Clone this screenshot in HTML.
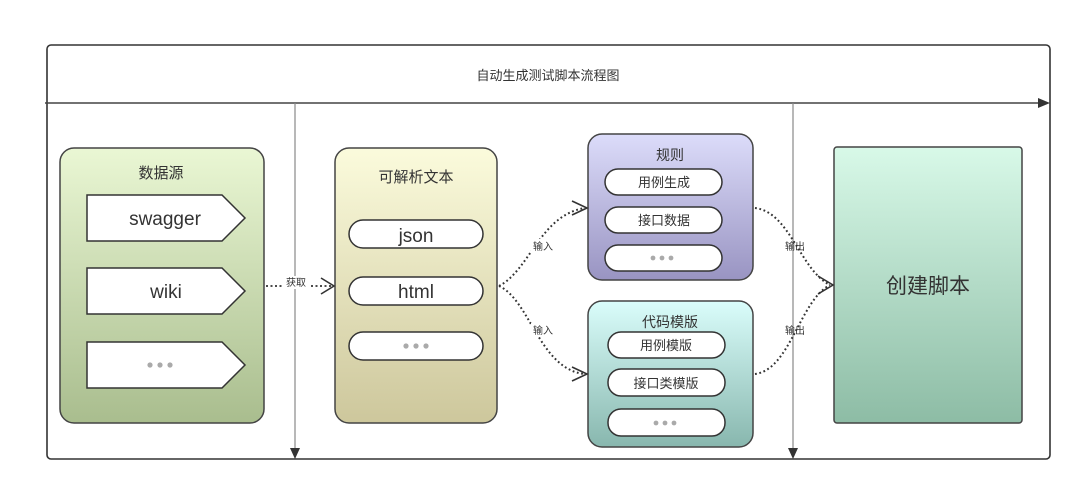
<!DOCTYPE html>
<html><head><meta charset="utf-8"><style>
html,body{margin:0;padding:0;background:#fff;width:1080px;height:489px;overflow:hidden}
text{font-family:"Liberation Sans","Noto Sans CJK SC",sans-serif;fill:#333}
</style></head><body>
<svg width="1080" height="489" viewBox="0 0 1080 489" xmlns="http://www.w3.org/2000/svg">
<defs>
<linearGradient id="g1" x1="0" y1="0" x2="0" y2="1"><stop offset="0" stop-color="#eaf7d4"/><stop offset="1" stop-color="#a9bd8e"/></linearGradient>
<linearGradient id="g2" x1="0" y1="0" x2="0" y2="1"><stop offset="0" stop-color="#fbfbdc"/><stop offset="1" stop-color="#cdc79c"/></linearGradient>
<linearGradient id="g3" x1="0" y1="0" x2="0" y2="1"><stop offset="0" stop-color="#dcdcfa"/><stop offset="1" stop-color="#9994c2"/></linearGradient>
<linearGradient id="g4" x1="0" y1="0" x2="0" y2="1"><stop offset="0" stop-color="#dafdfb"/><stop offset="1" stop-color="#88b7ae"/></linearGradient>
<linearGradient id="g5" x1="0" y1="0" x2="0" y2="1"><stop offset="0" stop-color="#d8f9e8"/><stop offset="1" stop-color="#8dbca5"/></linearGradient>
</defs>
<rect x="47" y="45" width="1003" height="414" rx="4" fill="none" stroke="#333" stroke-width="1.6"/>
<line x1="45" y1="103" x2="1042" y2="103" stroke="#444" stroke-width="1.6"/>
<polygon points="1050,103 1038,98 1038,108" fill="#333"/>
<text x="548" y="80" font-size="13" text-anchor="middle">自动生成测试脚本流程图</text>
<line x1="295" y1="103" x2="295" y2="450" stroke="#888" stroke-width="1.2"/>
<polygon points="295,459 290,448 300,448" fill="#333"/>
<line x1="793" y1="103" x2="793" y2="450" stroke="#888" stroke-width="1.2"/>
<polygon points="793,459 788,448 798,448" fill="#333"/>

<rect x="60" y="148" width="204" height="275" rx="14" fill="url(#g1)" stroke="#444" stroke-width="1.5"/>
<text x="161" y="178" font-size="15" text-anchor="middle">数据源</text>
<g fill="#fff" stroke="#333" stroke-width="1.5">
<polygon points="87,195 222,195 245,218 222,241 87,241"/>
<polygon points="87,268 222,268 245,291 222,314 87,314"/>
<polygon points="87,342 222,342 245,365 222,388 87,388"/>
</g>
<text x="165" y="225" font-size="19" text-anchor="middle">swagger</text>
<text x="166" y="298" font-size="19" text-anchor="middle">wiki</text>
<g fill="#aaa"><circle cx="150" cy="365" r="2.6"/><circle cx="160" cy="365" r="2.6"/><circle cx="170" cy="365" r="2.6"/></g>

<rect x="335" y="148" width="162" height="275" rx="14" fill="url(#g2)" stroke="#444" stroke-width="1.5"/>
<text x="416" y="182" font-size="15" text-anchor="middle">可解析文本</text>
<g fill="#fff" stroke="#333" stroke-width="1.5">
<rect x="349" y="220" width="134" height="28" rx="14"/>
<rect x="349" y="277" width="134" height="28" rx="14"/>
<rect x="349" y="332" width="134" height="28" rx="14"/>
</g>
<text x="416" y="242" font-size="19" text-anchor="middle">json</text>
<text x="416" y="298" font-size="19" text-anchor="middle">html</text>
<g fill="#aaa"><circle cx="406" cy="346" r="2.6"/><circle cx="416" cy="346" r="2.6"/><circle cx="426" cy="346" r="2.6"/></g>

<line x1="266" y1="286" x2="331" y2="286" stroke="#333" stroke-width="1.8" stroke-dasharray="2,2.5"/>
<rect x="283" y="276" width="26" height="13" fill="#fff"/>
<text x="296" y="286" font-size="10" text-anchor="middle">获取</text>
<polyline points="321,278 334,286 321,294" fill="none" stroke="#333" stroke-width="1.6"/>

<rect x="588" y="134" width="165" height="146" rx="14" fill="url(#g3)" stroke="#444" stroke-width="1.5"/>
<text x="670" y="160" font-size="14" text-anchor="middle">规则</text>
<g fill="#fff" stroke="#333" stroke-width="1.5">
<rect x="605" y="169" width="117" height="26" rx="13"/>
<rect x="605" y="207" width="117" height="26" rx="13"/>
<rect x="605" y="245" width="117" height="26" rx="13"/>
</g>
<text x="664" y="187" font-size="13" text-anchor="middle">用例生成</text>
<text x="664" y="225" font-size="13" text-anchor="middle">接口数据</text>
<g fill="#aaa"><circle cx="653" cy="258" r="2.4"/><circle cx="662" cy="258" r="2.4"/><circle cx="671" cy="258" r="2.4"/></g>

<rect x="588" y="301" width="165" height="146" rx="14" fill="url(#g4)" stroke="#444" stroke-width="1.5"/>
<text x="670" y="327" font-size="14" text-anchor="middle">代码模版</text>
<g fill="#fff" stroke="#333" stroke-width="1.5">
<rect x="608" y="332" width="117" height="26" rx="13"/>
<rect x="608" y="369" width="117" height="27" rx="13"/>
<rect x="608" y="409" width="117" height="27" rx="13"/>
</g>
<text x="666" y="350" font-size="13" text-anchor="middle">用例模版</text>
<text x="666" y="388" font-size="13" text-anchor="middle">接口类模版</text>
<g fill="#aaa"><circle cx="656" cy="423" r="2.4"/><circle cx="665" cy="423" r="2.4"/><circle cx="674" cy="423" r="2.4"/></g>

<rect x="834" y="147" width="188" height="276" rx="3" fill="url(#g5)" stroke="#444" stroke-width="1.5"/>
<text x="928" y="293" font-size="21" text-anchor="middle">创建脚本</text>

<g fill="none" stroke="#333" stroke-width="2" stroke-dasharray="1.8,2.6">
<path d="M499,286 C530,270 540,215 585,208"/>
<path d="M499,286 C530,300 540,370 585,374"/>
<path d="M755,208 C790,212 800,270 830,285"/>
<path d="M755,374 C790,370 800,300 830,285"/>
</g>
<g fill="none" stroke="#333" stroke-width="1.6">
<polyline points="572,201 587,208 572,215"/>
<polyline points="572,367 587,374 572,381"/>
<polyline points="818,276 833,285 818,294"/>
</g>
<g font-size="10" text-anchor="middle">
<rect x="531" y="239" width="24" height="13" fill="#fff"/>
<text x="543" y="250">输入</text>
<rect x="531" y="323" width="24" height="13" fill="#fff"/>
<text x="543" y="334">输入</text>
<text x="795" y="250">输出</text>
<text x="795" y="334">输出</text>
</g>
</svg>
</body></html>
